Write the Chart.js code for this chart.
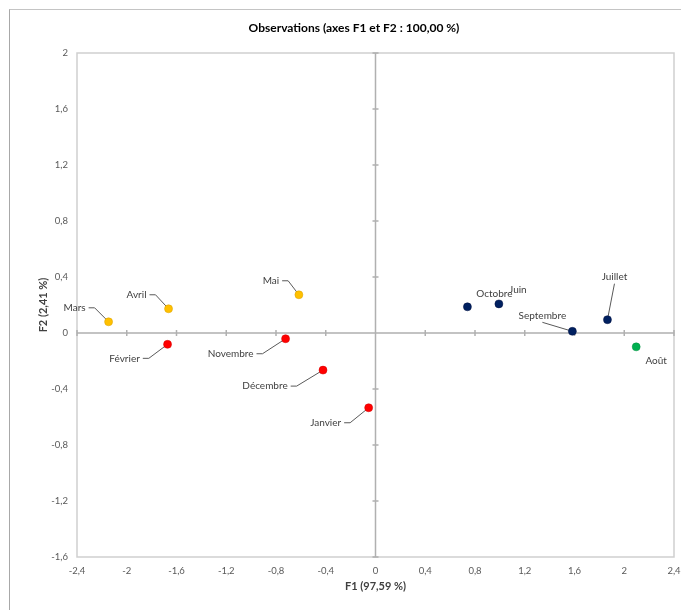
<!DOCTYPE html>
<html>
<head>
<meta charset="utf-8">
<script src="https://cdn.jsdelivr.net/npm/chart.js@4.4.1/dist/chart.umd.min.js"></script>
<style>
  html, body { margin: 0; padding: 0; background: #fff; }
  #cadre { position: relative; width: 681px; height: 610px; }
  #bord { position: absolute; left: 9px; top: 9px; right: 0; bottom: 0;
          border-left: 1.5px solid #a8a8a8; border-top: 1.5px solid #c4c4c4; }
  canvas { position: absolute; left: 0; top: 0; }
</style>
</head>
<body>
<div id="cadre">
  <div id="bord"></div>
  <canvas id="graphique" width="681" height="610"></canvas>
</div>
<script>
// Observations (coordonnées F1 / F2)
const mois = ['Janvier', 'Février', 'Mars', 'Avril', 'Mai', 'Juin',
              'Juillet', 'Août', 'Septembre', 'Octobre', 'Novembre', 'Décembre'];
const f1 = [-0.055, -1.672, -2.146, -1.664, -0.616, 0.992,
            1.865, 2.096, 1.583, 0.739, -0.723, -0.422];
const f2 = [-0.534, -0.081, 0.080, 0.173, 0.273, 0.208,
            0.095, -0.099, 0.012, 0.187, -0.041, -0.265];
// classe de chaque mois (0 = jaune, 1 = rouge, 2 = bleu, 3 = vert)
const classe = [1, 1, 0, 0, 0, 2, 2, 3, 2, 2, 1, 1];

const ticksX = [-2.4, -2, -1.6, -1.2, -0.8, -0.4, 0, 0.4, 0.8, 1.2, 1.6, 2, 2.4];
const ticksY = [-1.6, -1.2, -0.8, -0.4, 0, 0.4, 0.8, 1.2, 1.6, 2];

const titre = 'Observations (axes F1 et F2 : 100,00 %)';
const titreX = 'F1 (97,59 %)';
const titreY = 'F2 (2,41 %)';

// style
const couleurs = ['#FFC000', '#FF0000', '#002060', '#00B050'];
const bords = ['#d9a000', '#d00000', '#001040', '#009040'];
const police = 'Lato, "Liberation Sans", sans-serif';
// position des étiquettes par rapport au point (px), type de trait de rappel
const etiquettes = {
  'Janvier':   { dx: -43, dy: 15, trait: 'h' },
  'Février':   { dx: -43, dy: 14, trait: 'h' },
  'Mars':      { dx: -34, dy: -14, trait: 'h' },
  'Avril':     { dx: -32, dy: -14, trait: 'h' },
  'Mai':       { dx: -28, dy: -14, trait: 'h' },
  'Juin':      { dx: 19, dy: -14, trait: null },
  'Juillet':   { dx: 7, dy: -43, trait: 'v' },
  'Août':      { dx: 20, dy: 14, trait: null },
  'Septembre': { dx: -30, dy: -16, trait: 'v' },
  'Octobre':   { dx: 27, dy: -13, trait: null },
  'Novembre':  { dx: -55, dy: 15, trait: 'h' },
  'Décembre':  { dx: -58, dy: 16, trait: 'h' }
};

function fmt(v) {
  return String(Math.round(v * 10) / 10).replace('.', ',');
}

// un jeu de données par classe
const jeux = [0, 1, 2, 3].map(c => {
  const pts = [];
  mois.forEach((m, i) => {
    if (classe[i] === c) pts.push({ x: f1[i], y: f2[i], nom: m });
  });
  return {
    data: pts,
    backgroundColor: couleurs[c],
    borderColor: bords[c],
    borderWidth: 0.5,
    pointRadius: 4,
    pointHoverRadius: 4
  };
});

const dessin = {
  id: 'dessin',
  beforeDatasetsDraw(chart) {
    const ctx = chart.ctx;
    const a = chart.chartArea;
    const sx = chart.scales.x, sy = chart.scales.y;
    ctx.save();
    // cadre de la zone de tracé
    ctx.strokeStyle = '#cfcfcf';
    ctx.lineWidth = 1.5;
    ctx.strokeRect(a.left, a.top, a.right - a.left, a.bottom - a.top);
    // axes passant par 0
    const x0 = sx.getPixelForValue(0), y0 = sy.getPixelForValue(0);
    ctx.strokeStyle = '#b0b0b0';
    ctx.lineWidth = 1.5;
    ctx.beginPath();
    ctx.moveTo(a.left, y0); ctx.lineTo(a.right, y0);
    ctx.moveTo(x0, a.top); ctx.lineTo(x0, a.bottom);
    ticksX.forEach(v => {
      const px = sx.getPixelForValue(v);
      ctx.moveTo(px, y0 - 3); ctx.lineTo(px, y0 + 3);
    });
    ticksY.forEach(v => {
      const py = sy.getPixelForValue(v);
      ctx.moveTo(x0 - 3, py); ctx.lineTo(x0 + 3, py);
    });
    ctx.stroke();
    // traits de rappel
    ctx.font = '10px ' + police;
    ctx.strokeStyle = '#595959';
    ctx.lineWidth = 1;
    mois.forEach((m, i) => {
      const e = etiquettes[m];
      if (!e.trait) return;
      const px = sx.getPixelForValue(f1[i]), py = sy.getPixelForValue(f2[i]);
      const lx = px + e.dx, ly = py + e.dy;
      ctx.beginPath();
      if (e.trait === 'h') {
        const w = ctx.measureText(m).width;
        ctx.moveTo(lx + w / 2 + 3, ly);
        ctx.lineTo(lx + w / 2 + 9, ly);
      } else {
        ctx.moveTo(lx, ly + 7);
      }
      ctx.lineTo(px, py);
      ctx.stroke();
    });
    ctx.restore();
  },
  afterDraw(chart) {
    const ctx = chart.ctx;
    const a = chart.chartArea;
    const sx = chart.scales.x, sy = chart.scales.y;
    ctx.save();
    ctx.textAlign = 'center';
    ctx.textBaseline = 'middle';
    // étiquettes des points
    ctx.fillStyle = '#404040';
    ctx.font = '10px ' + police;
    mois.forEach((m, i) => {
      const e = etiquettes[m];
      const px = sx.getPixelForValue(f1[i]), py = sy.getPixelForValue(f2[i]);
      ctx.fillText(m, px + e.dx, py + e.dy);
    });
    // titres
    ctx.fillStyle = '#000';
    ctx.font = 'bold 12px ' + police;
    ctx.fillText(titre, 354, 28);
    ctx.fillStyle = '#404040';
    ctx.font = 'bold 11px ' + police;
    ctx.fillText(titreX, (a.left + a.right) / 2, 586);
    ctx.translate(43, (a.top + a.bottom) / 2);
    ctx.rotate(-Math.PI / 2);
    ctx.fillText(titreY, 0, 0);
    ctx.restore();
  }
};

new Chart(document.getElementById('graphique'), {
  type: 'scatter',
  data: { datasets: jeux },
  options: {
    responsive: false,
    animation: false,
    layout: { padding: { top: 53, right: 7, left: 0, bottom: 0 } },
    plugins: {
      legend: { display: false },
      title: { display: false },
      tooltip: { enabled: false }
    },
    scales: {
      x: {
        type: 'linear',
        min: -2.4, max: 2.4,
        afterBuildTicks: s => { s.ticks = ticksX.map(v => ({ value: v })); },
        afterFit: s => { s.height = 53; s.paddingLeft = 0; s.paddingRight = 0; },
        grid: { display: false, drawTicks: false },
        border: { display: false },
        ticks: {
          padding: 8,
          color: '#595959',
          font: { family: police, size: 9.5 },
          maxRotation: 0,
          autoSkip: false,
          callback: v => fmt(v)
        }
      },
      y: {
        type: 'linear',
        min: -1.6, max: 2,
        afterBuildTicks: s => { s.ticks = ticksY.map(v => ({ value: v })); },
        afterFit: s => { s.width = 77; s.paddingTop = 0; s.paddingBottom = 0; },
        grid: { display: false, drawTicks: false },
        border: { display: false },
        ticks: {
          padding: 9,
          color: '#595959',
          font: { family: police, size: 9.5 },
          autoSkip: false,
          callback: v => fmt(v)
        }
      }
    }
  },
  plugins: [dessin]
});
</script>
</body>
</html>
